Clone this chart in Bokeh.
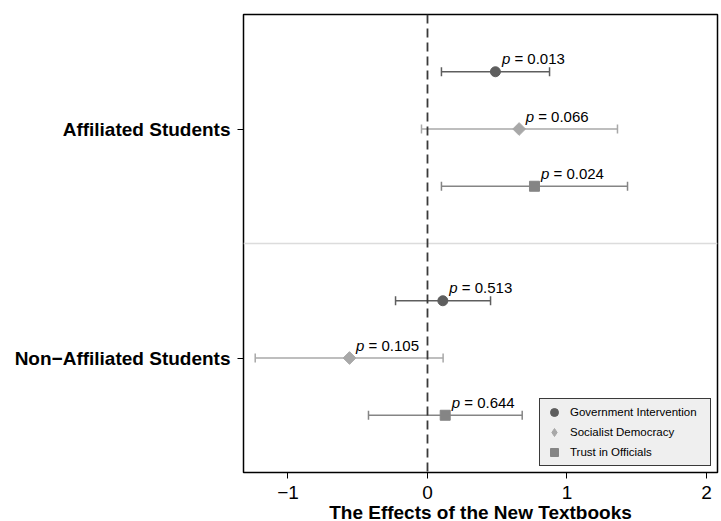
import math
from bokeh.plotting import figure
from bokeh.models import (Range1d, FixedTicker, Span, Whisker, TeeHead, ColumnDataSource, Legend, LegendItem)
from bokeh.core.properties import value
from bokeh.embed import file_html
from bokeh.resources import INLINE

groups = ["Affiliated Students", "Non\u2212Affiliated Students"]
group_pos = [2, 1]

series_names = ["Government Intervention", "Socialist Democracy", "Trust in Officials"]
series_colors = ["#5e5e5e", "#a8a8a8", "#858585"]
series_markers = ["circle", "square", "square"]
legend_markers = ["circle", "diamond", "square"]
series_angles = [0.0, math.pi / 4, 0.0]
series_sizes = [10, 9, 10]
series_offsets = [0.25, 0.0, -0.25]

gi_est = [0.487, 0.11]
gi_lo = [0.10, -0.229]
gi_hi = [0.875, 0.452]
gi_p = ["0.013", "0.513"]

sd_est = [0.657, -0.559]
sd_lo = [-0.043, -1.235]
sd_hi = [1.362, 0.112]
sd_p = ["0.066", "0.105"]

tio_est = [0.767, 0.127]
tio_lo = [0.10, -0.423]
tio_hi = [1.434, 0.679]
tio_p = ["0.024", "0.644"]

estimates = [gi_est, sd_est, tio_est]
lows = [gi_lo, sd_lo, tio_lo]
highs = [gi_hi, sd_hi, tio_hi]
pvals = [gi_p, sd_p, tio_p]

FONT = "Liberation Sans"

p = figure(width=720, height=525, output_backend="svg", toolbar_location=None,
           x_range=Range1d(-1.319, 2.079), y_range=Range1d(0.5, 2.5),
           min_border_left=243, min_border_right=3, min_border_top=14, min_border_bottom=40)

p.xgrid.visible = False
p.ygrid.visible = False
p.outline_line_color = "black"
p.outline_line_width = 1.5
p.background_fill_color = "white"
p.border_fill_color = "white"

# reference lines
p.add_layout(Span(location=1.5, dimension="width", line_color="#dcdcdc", line_width=1.5))
p.add_layout(Span(location=0, dimension="height", line_color="#3a3a3a", line_width=1.8, line_dash="9 5"))

items = []
for name, col, mk, lmk, ang, sz, off, est, lo, hi, pv in zip(series_names, series_colors, series_markers,
                                                               legend_markers, series_angles, series_sizes,
                                                               series_offsets, estimates, lows, highs, pvals):
    ys = [g + off for g in group_pos]
    src = ColumnDataSource(dict(x=est, y=ys, lo=lo, hi=hi, ptxt=["p"] * len(est),
                                rest=["= " + v for v in pv]))
    w = Whisker(base="y", lower="lo", upper="hi", dimension="width", source=src,
                line_color=col, line_width=1.5,
                lower_head=TeeHead(size=9, line_color=col, line_width=1.5),
                upper_head=TeeHead(size=9, line_color=col, line_width=1.5))
    p.add_layout(w)
    r = p.scatter("x", "y", source=src, marker=mk, size=sz, angle=ang, fill_color=col, line_color=col)
    if lmk != mk:
        # legend-only key (not drawn in the plot area) so the legend shows a diamond
        r = p.scatter(x=[float("nan")], y=[float("nan")], marker=lmk, size=sz,
                      fill_color=col, line_color=col)
    items.append(LegendItem(label=name, renderers=[r]))
    p.text("x", "y", text="ptxt", source=src, x_offset=6.5, y_offset=-13,
           text_font=value(FONT), text_font_style="italic", text_font_size="15px",
           text_baseline="alphabetic", text_color="black")
    p.text("x", "y", text="rest", source=src, x_offset=19, y_offset=-13,
           text_font=value(FONT), text_font_size="15px",
           text_baseline="alphabetic", text_color="black")

legend = Legend(items=items, location="bottom_right")
legend.margin = 6
legend.padding = 3
legend.spacing = 0
legend.glyph_width = 22
legend.glyph_height = 20
legend.label_height = 20
legend.label_width = 137
legend.label_standoff = 5
legend.label_text_font = FONT
legend.label_text_font_size = "11.5px"
legend.label_text_color = "black"
legend.background_fill_color = "#efefef"
legend.background_fill_alpha = 1
legend.border_line_color = "#3a3a3a"
legend.border_line_width = 1.5
legend.border_line_alpha = 1
p.add_layout(legend)

# axes
p.xaxis.ticker = FixedTicker(ticks=[-1, 0, 1, 2])
p.xaxis.major_label_overrides = {-1: "\u22121", 0: "0", 1: "1", 2: "2"}
p.xaxis.axis_label = "The Effects of the New Textbooks"
p.xaxis.axis_label_text_font = FONT
p.xaxis.axis_label_text_font_style = "bold"
p.xaxis.axis_label_text_font_size = "19px"
p.xaxis.axis_label_text_color = "black"
p.xaxis.axis_label_standoff = 0
p.xaxis.major_label_text_font = FONT
p.xaxis.major_label_text_font_size = "19px"
p.xaxis.major_label_standoff = 7
p.xaxis.major_tick_out = 6
p.xaxis.major_tick_in = 0
p.xaxis.minor_tick_out = 0
p.xaxis.minor_tick_in = 0
p.xaxis.axis_line_color = "black"
p.xaxis.major_tick_line_color = "black"
p.xaxis.major_label_text_color = "black"

p.yaxis.ticker = FixedTicker(ticks=group_pos)
p.yaxis.major_label_overrides = {g: lab for g, lab in zip(group_pos, groups)}
p.yaxis.major_label_text_font = FONT
p.yaxis.major_label_text_font_style = "bold"
p.yaxis.major_label_text_font_size = "19px"
p.yaxis.major_label_text_color = "black"
p.yaxis.major_label_standoff = 7
p.yaxis.major_tick_out = 6
p.yaxis.major_tick_in = 0
p.yaxis.minor_tick_out = 0
p.yaxis.minor_tick_in = 0
p.yaxis.axis_line_color = "black"
p.yaxis.major_tick_line_color = "black"

open("out.html", "w").write(file_html(p, INLINE))
